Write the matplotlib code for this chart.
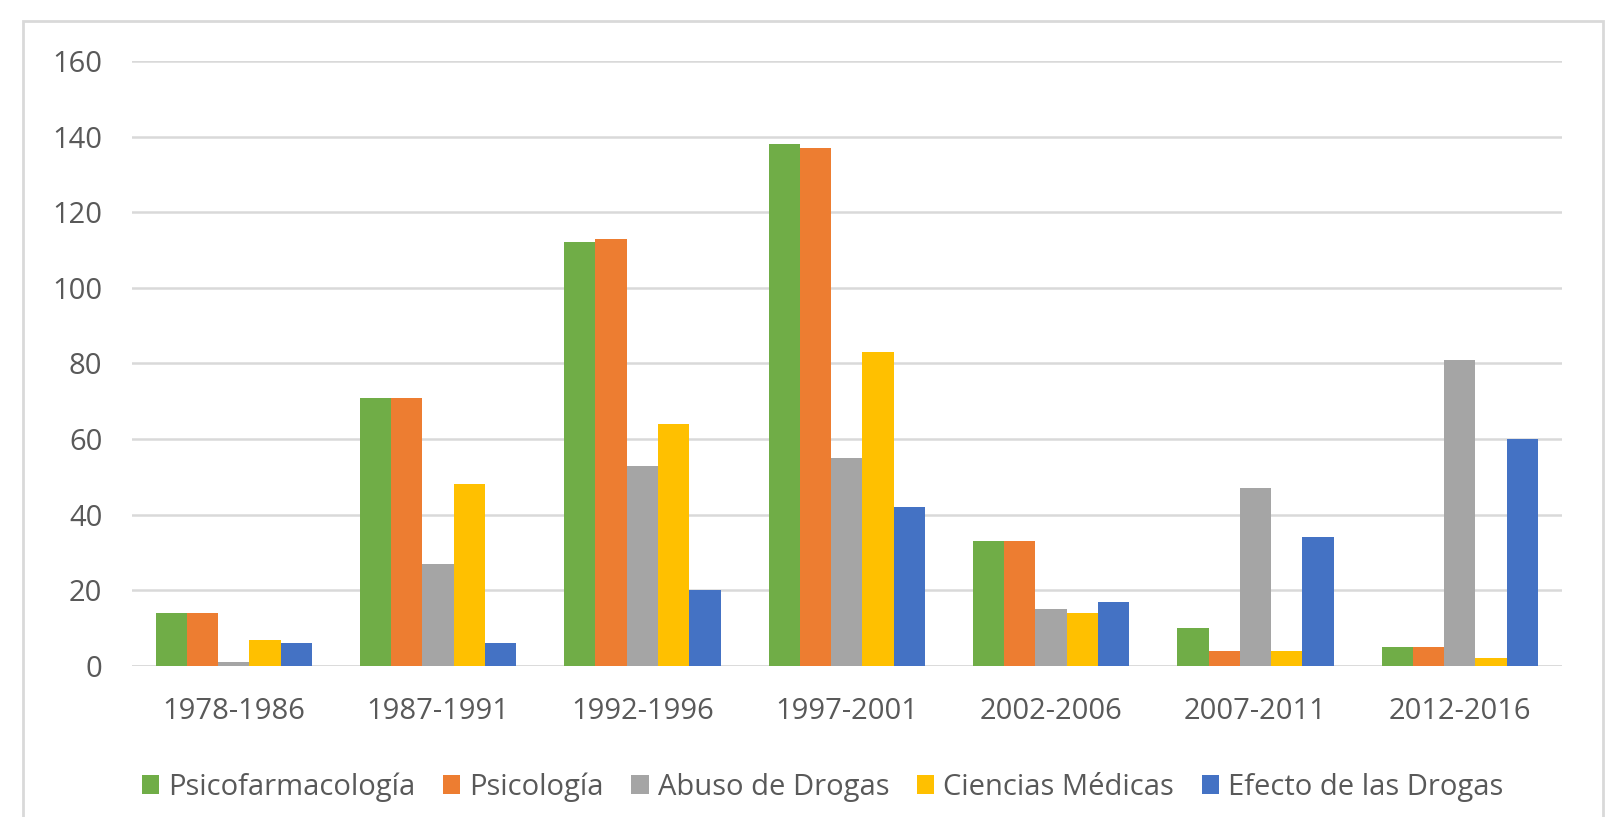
import matplotlib.pyplot as plt
import numpy as np
from matplotlib.patches import Rectangle

periods = ['1978-1986', '1987-1991', '1992-1996', '1997-2001', '2002-2006', '2007-2011', '2012-2016']
psicofarmacologia = [14, 71, 112, 138, 33, 10, 5]
psicologia = [14, 71, 113, 137, 33, 4, 5]
abuso = [1, 27, 53, 55, 15, 47, 81]
ciencias = [7, 48, 64, 83, 14, 4, 2]
efecto = [6, 6, 20, 42, 17, 34, 60]

series = [
    ('Psicofarmacología', psicofarmacologia, '#70ad47'),
    ('Psicología', psicologia, '#ed7d31'),
    ('Abuso de Drogas', abuso, '#a5a5a5'),
    ('Ciencias Médicas', ciencias, '#ffc000'),
    ('Efecto de las Drogas', efecto, '#4472c4'),
]

plt.rcParams['font.family'] = ['Open Sans', 'DejaVu Sans']
txt = '#595959'

fig = plt.figure(figsize=(16.24, 8.17), dpi=100)
ax = fig.add_axes([131.5 / 1624, 1 - 666 / 817, (1562 - 131.5) / 1624, (666 - 61) / 817])

# outer chart border
fig.patches.append(Rectangle((23 / 1624, -0.05), (1603 - 23) / 1624, 1.05 - 21 / 817,
                             transform=fig.transFigure, fill=False, ec='#d9d9d9', lw=2))

x = np.arange(len(periods))
w = 0.153
for i, (name, vals, col) in enumerate(series):
    ax.bar(x + (i - 2) * w, vals, w, color=col, label=name, zorder=3)

ax.set_xlim(-0.5, 6.5)
ax.set_ylim(0, 160)
ax.set_yticks(range(0, 161, 20))
ax.yaxis.grid(True, color='#d9d9d9', lw=1.8, zorder=0)
ax.set_axisbelow(True)
for s in ax.spines.values():
    s.set_visible(False)
ax.axhline(0, color='#d9d9d9', lw=1.8, zorder=2)
ax.set_xticks(x)
ax.set_xticklabels(periods)
ax.tick_params(length=0, labelsize=21, colors=txt)
ax.tick_params(axis='x', pad=22)
ax.tick_params(axis='y', pad=21)

leg = ax.legend(loc='center', bbox_to_anchor=(0.483, -0.2), ncol=5, frameon=False,
                fontsize=21, handlelength=0.6, handleheight=0.6, handletextpad=0.3,
                columnspacing=0.95)
for t in leg.get_texts():
    t.set_color(txt)

plt.savefig('out.png')
